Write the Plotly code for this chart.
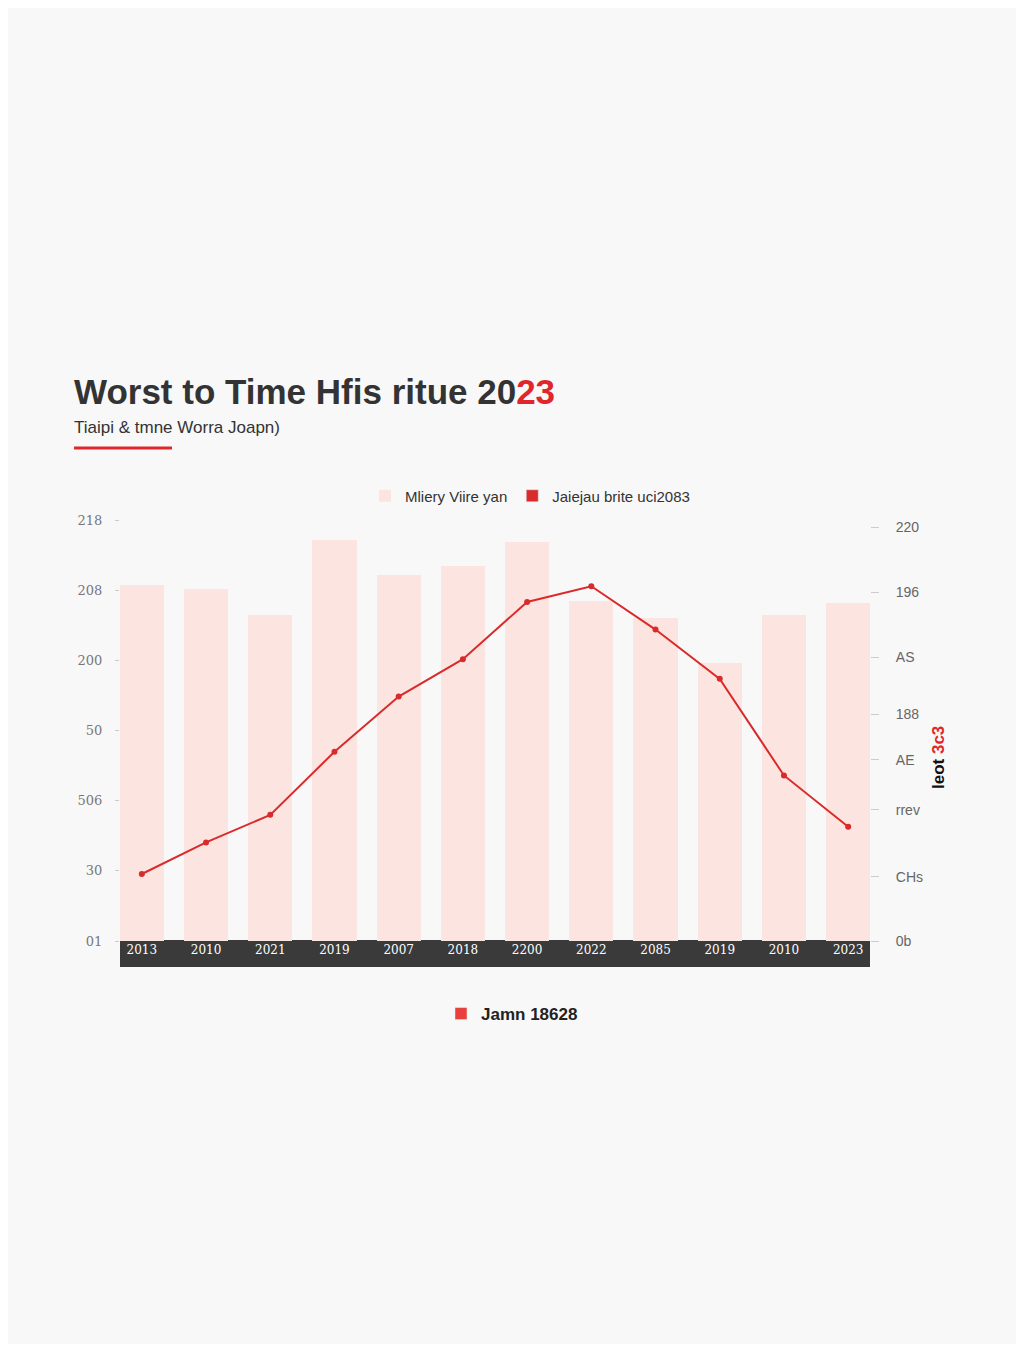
import plotly.graph_objects as go

# categories and values
x_labels = ["2013", "2010", "2021", "2019", "2007", "2018", "2200", "2022", "2085", "2019", "2010", "2023"]
bar_values = [254, 251, 232, 286, 261, 267, 284, 242, 230, 198, 232, 241]
line_values = [34, 50, 64, 96, 124, 143, 172, 180, 158, 133, 84, 58]

left_tickvals = [0, 50, 100, 150, 200, 250, 300]
left_ticktext = ["01", "30", "506", "50", "200", "208", "218"]
right_tickvals = [0, 32.5, 66.5, 92, 115, 144, 177, 210]
right_ticktext = ["0b", "CHs", "rrev", "AE", "188", "AS", "196", "220"]

bar_name = "Mliery Viire yan"
line_name = "Jaiejau brite uci2083"
bottom_name = "Jamn 18628"

# page body adds an 8px margin, so work in page pixels minus 8
OFF = 8
W, H = 1024 - 2 * OFF, 1352 - 2 * OFF
L, R, T, B = 120 - OFF, 870 - OFF, 505 - OFF, 941 - OFF


def px_x(p):
    return (p - OFF - L) / (R - L)


def px_y(p):
    return (B - (p - OFF)) / (B - T)


xs = list(range(len(x_labels)))

fig = go.Figure()

fig.add_trace(go.Bar(x=xs, y=bar_values, name=bar_name, width=0.69,
                     marker=dict(color="#fce5e0", line=dict(width=0)),
                     legend="legend"))
fig.add_trace(go.Bar(x=[None], y=[None], name=line_name,
                     marker=dict(color="#d92b2b"), legend="legend"))
fig.add_trace(go.Scatter(x=xs, y=line_values, mode="lines+markers", yaxis="y2",
                         line=dict(color="#d92b2b", width=2),
                         marker=dict(size=6, color="#d92b2b"), showlegend=False))
fig.add_trace(go.Bar(x=[None], y=[None], name=bottom_name,
                     marker=dict(color="#e8403a"), legend="legend2"))

fig.update_layout(
    width=W, height=H,
    margin=dict(l=L, r=W - R, t=T, b=H - B),
    paper_bgcolor="#f8f8f8", plot_bgcolor="#f8f8f8",
    font=dict(family="Liberation Sans, Arial, sans-serif", color="#333"),
    bargap=0,
    title=dict(text="Worst to Time Hfis ritue 20<span style='color:#e0262b'>23</span>",
               x=(74 - OFF) / W, xanchor="left", xref="container",
               y=1 - (392 - OFF) / H, yanchor="middle", yref="container",
               font=dict(size=35, color="#333", family="Liberation Sans, Arial, sans-serif", weight="bold")),
    xaxis=dict(range=[-0.34, 11.34], tickvals=xs, ticktext=x_labels, showgrid=False,
               zeroline=False, showline=False, ticks="",
               tickfont=dict(color="#ffffff", size=12, family="DejaVu Serif, serif")),
    yaxis=dict(range=[0, 310.7], tickvals=left_tickvals, ticktext=left_ticktext,
               showgrid=False, zeroline=False, ticks="outside", ticklen=4,
               ticklabelstandoff=10,
               tickcolor="#cccccc", tickfont=dict(color="#777", size=13, family="DejaVu Serif, serif")),
    yaxis2=dict(range=[0, 221.2], overlaying="y", side="right", tickvals=right_tickvals,
                ticktext=right_ticktext, showgrid=False, zeroline=False, ticks="outside",
                ticklen=8, tickcolor="#cccccc", ticklabelstandoff=14,
                tickfont=dict(color="#666", size=14)),
    legend=dict(orientation="h", x=px_x(530), xanchor="center", y=px_y(496), yanchor="middle",
                font=dict(size=15, color="#333"), bgcolor="rgba(0,0,0,0)"),
    legend2=dict(orientation="h", x=px_x(512), xanchor="center", y=px_y(1014), yanchor="middle",
                 font=dict(size=17, color="#222", weight="bold"), bgcolor="rgba(0,0,0,0)"),
    shapes=[
        dict(type="rect", xref="paper", yref="paper", x0=0, x1=1, y0=px_y(967), y1=px_y(940),
             fillcolor="#3a3a3a", line=dict(width=0), layer="below"),
        dict(type="line", xref="paper", yref="paper", x0=px_x(74), x1=px_x(172),
             y0=px_y(448), y1=px_y(448), line=dict(color="#e0262b", width=3)),
    ],
    annotations=[
        dict(text="Tiaipi &amp; tmne Worra Joapn)", xref="paper", yref="paper",
             x=px_x(72), y=px_y(427), xanchor="left", yanchor="middle", showarrow=False,
             font=dict(size=17, color="#333")),
        dict(text="leot <span style='color:#e0262b'>3c3</span>", xref="paper", yref="paper",
             x=px_x(938), y=px_y(758), xanchor="center", yanchor="middle", textangle=-90,
             showarrow=False, font=dict(size=17, color="#111", weight="bold")),
    ],
)

fig.write_html("out.html")
